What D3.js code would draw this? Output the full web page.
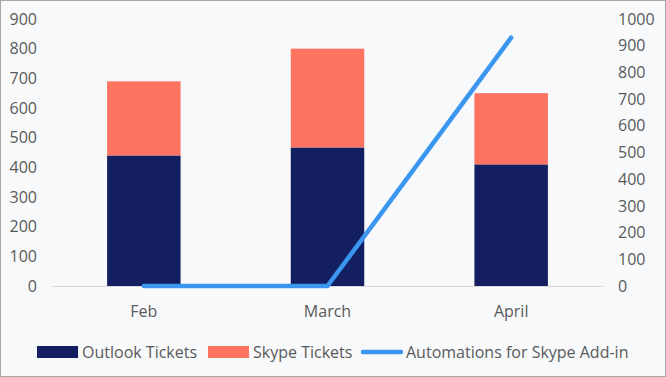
<!DOCTYPE html>
<html>
<head>
<meta charset="utf-8">
<script src="https://cdn.jsdelivr.net/npm/d3@7"></script>
<style>
  body { margin: 0; background: #fff; }
  svg text { font-family: "Open Sans", sans-serif; fill: #595959; }
</style>
</head>
<body>
<div id="chart"></div>
<script>
// data
var months = ["Feb", "March", "April"];
var outlookTickets = [440, 467, 410];
var skypeTickets = [250, 333, 240];
var automations = [0, 0, 930];
var leftTicks = [0, 100, 200, 300, 400, 500, 600, 700, 800, 900];
var rightTicks = [0, 100, 200, 300, 400, 500, 600, 700, 800, 900, 1000];

var w = 666;
var h = 377;
var padLeft = 52, padRight = 603, padTop = 19, padBottom = 286;

var svg = d3.select("#chart")
  .append("svg")
  .attr("width", w)
  .attr("height", h);

// background + frame
svg.append("rect")
  .attr("x", 0.5).attr("y", 0.5)
  .attr("width", w - 1).attr("height", h - 1)
  .attr("fill", "#f8f9fb")
  .attr("stroke", "#a6a6a6");

var xScale = d3.scaleBand()
  .domain(months)
  .range([padLeft, padRight])
  .paddingInner(0.6)
  .paddingOuter(0.3);

var yLeft = d3.scaleLinear().domain([0, 900]).range([padBottom, padTop]);
var yRight = d3.scaleLinear().domain([0, 1000]).range([padBottom, padTop]);

// baseline
svg.append("line")
  .attr("x1", padLeft).attr("x2", padRight)
  .attr("y1", padBottom + 0.5).attr("y2", padBottom + 0.5)
  .attr("stroke", "#d9d9d9");

// stacked bars
var rows = months.map(function(m, i) {
  return { month: m, outlook: outlookTickets[i], skype: skypeTickets[i] };
});
var stack = d3.stack().keys(["outlook", "skype"])(rows);
var colors = { outlook: "#131f60", skype: "#ff7361" };

svg.append("g")
  .selectAll("g")
  .data(stack)
  .enter()
  .append("g")
  .attr("fill", function(d) { return colors[d.key]; })
  .selectAll("rect")
  .data(function(d) { return d; })
  .enter()
  .append("rect")
  .attr("x", function(d) { return xScale(d.data.month); })
  .attr("width", xScale.bandwidth())
  .attr("y", function(d) { return yLeft(d[1]); })
  .attr("height", function(d) { return yLeft(d[0]) - yLeft(d[1]); });

// line on right axis
var line = d3.line()
  .x(function(d, i) { return xScale(months[i]) + xScale.bandwidth() / 2; })
  .y(function(d) { return yRight(d); });

svg.append("path")
  .datum(automations)
  .attr("d", line)
  .attr("fill", "none")
  .attr("stroke", "#3a96ee")
  .attr("stroke-width", 4.5)
  .attr("stroke-linecap", "round")
  .attr("stroke-linejoin", "round");

// left axis
var yAxisL = d3.axisLeft(yLeft).tickValues(leftTicks).tickFormat(d3.format("d")).tickSize(0).tickPadding(0);
var gL = svg.append("g")
  .attr("transform", "translate(37,0)")
  .call(yAxisL);
gL.select(".domain").remove();
gL.selectAll("text").attr("font-size", "16px").attr("font-family", null);

// right axis
var yAxisR = d3.axisRight(yRight).tickValues(rightTicks).tickFormat(d3.format("d")).tickSize(0).tickPadding(0);
var gR = svg.append("g")
  .attr("transform", "translate(618,0)")
  .call(yAxisR);
gR.select(".domain").remove();
gR.selectAll("text").attr("font-size", "16px").attr("font-family", null);

// x axis
var xAxis = d3.axisBottom(xScale).tickSize(0).tickPadding(20);
var gX = svg.append("g")
  .attr("transform", "translate(0," + padBottom + ")")
  .call(xAxis);
gX.select(".domain").remove();
gX.selectAll("text").attr("font-size", "16px").attr("font-family", null);

// legend
var legend = svg.append("g").attr("transform", "translate(0,352)");
var items = [
  { label: "Outlook Tickets", x: 37, kind: "rect", color: colors.outlook },
  { label: "Skype Tickets", x: 208, kind: "rect", color: colors.skype },
  { label: "Automations for Skype Add-in", x: 361, kind: "line", color: "#3a96ee" }
];
items.forEach(function(it) {
  if (it.kind == "rect") {
    legend.append("rect")
      .attr("x", it.x).attr("y", -6)
      .attr("width", 41).attr("height", 12)
      .attr("fill", it.color);
  } else {
    legend.append("line")
      .attr("x1", it.x + 2).attr("x2", it.x + 40)
      .attr("y1", 0).attr("y2", 0)
      .attr("stroke", it.color)
      .attr("stroke-width", 4.5)
      .attr("stroke-linecap", "round");
  }
  legend.append("text")
    .attr("x", it.x + 45)
    .attr("y", 0)
    .attr("dy", "0.35em")
    .attr("font-size", "16px")
    .text(it.label);
});
</script>
</body>
</html>
